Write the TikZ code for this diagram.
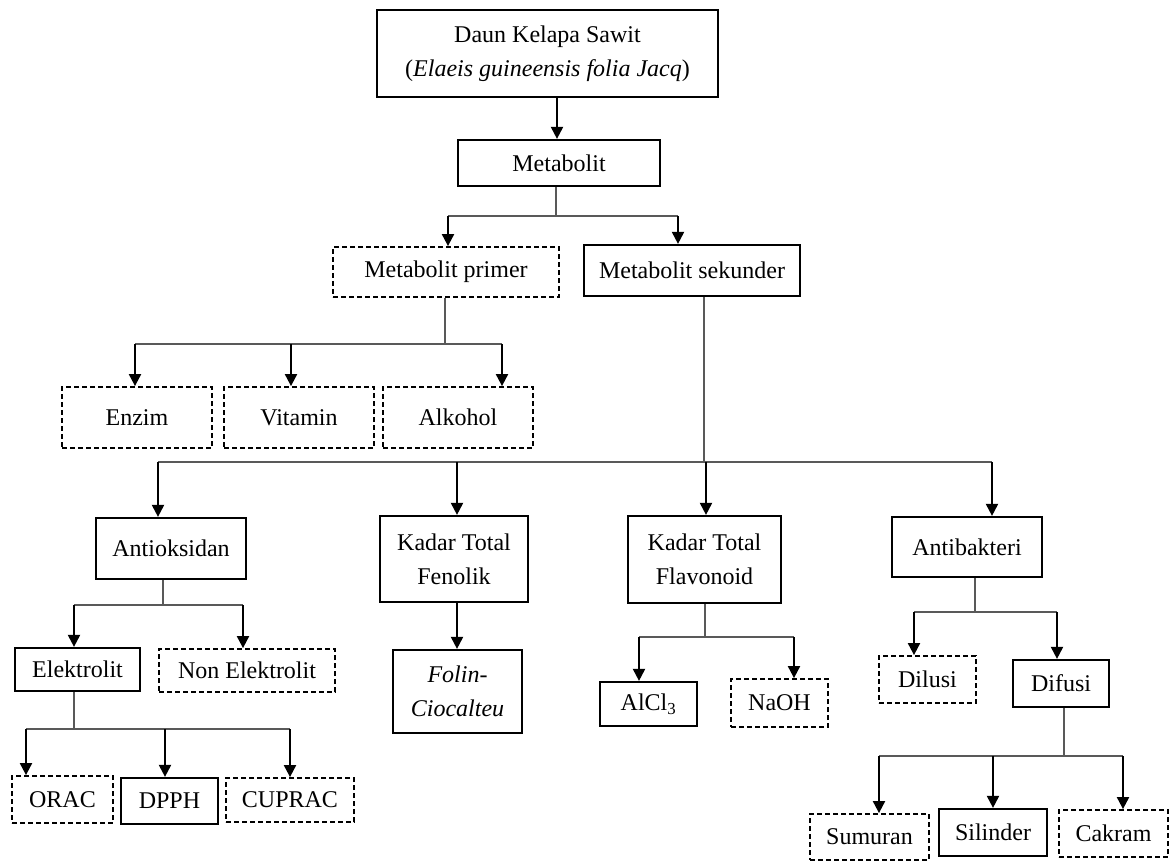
\documentclass[tikz,border=0pt]{standalone}
\usepackage{fontspec}
\setmainfont{Liberation Serif}
\usetikzlibrary{arrows.meta}
\begin{document}
\begin{tikzpicture}[x=1pt,y=-1pt,
  every node/.style={font=\fontsize{24}{34}\selectfont, align=center, inner sep=0pt},
  sbox/.style={draw, line width=2.2pt},
  dbox/.style={draw, line width=1.8pt, dash pattern=on 5pt off 3pt},
  link/.style={draw=black!65, line width=1.2pt},
  arr/.style={draw, line width=2pt, -{Triangle[width=12pt,length=12pt]}}]
\useasboundingbox (0,0) rectangle (1176,861);
% nodes
\node[sbox, minimum width=341, minimum height=87] (top) at (547.5,53.5) {Daun Kelapa Sawit\\(\textit{Elaeis guineensis folia Jacq})};
\node[sbox, minimum width=202, minimum height=46] (met) at (559,163) {Metabolit};
\node[dbox, minimum width=226, minimum height=50] (prim) at (446,272) {Metabolit primer};
\node[sbox, minimum width=216, minimum height=51] (sek) at (692,270.5) {Metabolit sekunder};
\node[dbox, minimum width=150, minimum height=61] (enzim) at (137,417.5) {Enzim};
\node[dbox, minimum width=150, minimum height=61] (vit) at (299,417.5) {Vitamin};
\node[dbox, minimum width=150, minimum height=61] (alk) at (458,417.5) {Alkohol};
\node[sbox, minimum width=150, minimum height=61] (anti) at (171,548.5) {Antioksidan};
\node[sbox, minimum width=148, minimum height=86] (fen) at (454,559) {Kadar Total\\Fenolik};
\node[sbox, minimum width=153, minimum height=87] (flav) at (704.5,559.5) {Kadar Total\\Flavonoid};
\node[sbox, minimum width=150, minimum height=60] (bakt) at (967,547) {Antibakteri};
\node[sbox, minimum width=125, minimum height=43] (elek) at (77.5,669.5) {Elektrolit};
\node[dbox, minimum width=176, minimum height=43] (nonel) at (247,670.5) {Non Elektrolit};
\node[sbox, minimum width=129, minimum height=83] (folin) at (457.5,691.5) {\textit{Folin-}\\\textit{Ciocalteu}};
\node[sbox, minimum width=97, minimum height=44] (alcl) at (648.5,704) {AlCl\textsubscript{3}};
\node[dbox, minimum width=97, minimum height=48] (naoh) at (779.5,703) {NaOH};
\node[dbox, minimum width=97, minimum height=47] (dilusi) at (927.5,679.5) {Dilusi};
\node[sbox, minimum width=96, minimum height=47] (difusi) at (1061,683.5) {Difusi};
\node[dbox, minimum width=101, minimum height=47] (orac) at (62.5,799.5) {ORAC};
\node[sbox, minimum width=97, minimum height=46] (dpph) at (169.5,801) {DPPH};
\node[dbox, minimum width=128, minimum height=44] (cuprac) at (290,800) {CUPRAC};
\node[dbox, minimum width=119, minimum height=46] (sumuran) at (869.5,837) {Sumuran};
\node[sbox, minimum width=108, minimum height=47] (silinder) at (993,832.5) {Silinder};
\node[dbox, minimum width=109, minimum height=47] (cakram) at (1113.5,833.5) {Cakram};
% junction coordinates
\coordinate (j1) at (556,216); \coordinate (j1a) at (448,216); \coordinate (j1b) at (678,216);
\coordinate (j2) at (445,344); \coordinate (j2a) at (135,344); \coordinate (j2b) at (291,344); \coordinate (j2c) at (502,344);
\coordinate (j3) at (704,462); \coordinate (j3a) at (158,462); \coordinate (j3b) at (457,462); \coordinate (j3c) at (706,462); \coordinate (j3d) at (992,462);
\coordinate (j4) at (163,605); \coordinate (j4a) at (74,605); \coordinate (j4b) at (243,605);
\coordinate (j5) at (74,729); \coordinate (j5a) at (26,729); \coordinate (j5b) at (165,729); \coordinate (j5c) at (290,729);
\coordinate (j6) at (705,637); \coordinate (j6a) at (639,637); \coordinate (j6b) at (794,637);
\coordinate (j7) at (975,612); \coordinate (j7a) at (914,612); \coordinate (j7b) at (1057,612);
\coordinate (j8) at (1064,756); \coordinate (j8a) at (879,756); \coordinate (j8b) at (993,756); \coordinate (j8c) at (1123,756);
\coordinate (j0) at (557,0);
% connectors
\draw[arr] (top.south -| j0) -- (met.north -| j0);
\draw[link] (met.south -| j1) -- (j1);
\draw[link] (j1a) -- (j1b);
\draw[arr] (j1a) -- (j1a |- prim.north);
\draw[arr] (j1b) -- (j1b |- sek.north);
\draw[link] (prim.south -| j2) -- (j2);
\draw[link] (j2a) -- (j2c);
\draw[arr] (j2a) -- (j2a |- enzim.north);
\draw[arr] (j2b) -- (j2b |- vit.north);
\draw[arr] (j2c) -- (j2c |- alk.north);
\draw[link] (sek.south -| j3) -- (j3);
\draw[link] (j3a) -- (j3d);
\draw[arr] (j3a) -- (j3a |- anti.north);
\draw[arr] (j3b) -- (j3b |- fen.north);
\draw[arr] (j3c) -- (j3c |- flav.north);
\draw[arr] (j3d) -- (j3d |- bakt.north);
\draw[link] (anti.south -| j4) -- (j4);
\draw[link] (j4a) -- (j4b);
\draw[arr] (j4a) -- (j4a |- elek.north);
\draw[arr] (j4b) -- (j4b |- nonel.north);
\draw[link] (elek.south -| j5) -- (j5);
\draw[link] (j5a) -- (j5c);
\draw[arr] (j5a) -- (j5a |- orac.north);
\draw[arr] (j5b) -- (j5b |- dpph.north);
\draw[arr] (j5c) -- (j5c |- cuprac.north);
\draw[arr] (fen.south -| j3b) -- (folin.north -| j3b);
\draw[link] (flav.south -| j6) -- (j6);
\draw[link] (j6a) -- (j6b);
\draw[arr] (j6a) -- (j6a |- alcl.north);
\draw[arr] (j6b) -- (j6b |- naoh.north);
\draw[link] (bakt.south -| j7) -- (j7);
\draw[link] (j7a) -- (j7b);
\draw[arr] (j7a) -- (j7a |- dilusi.north);
\draw[arr] (j7b) -- (j7b |- difusi.north);
\draw[link] (difusi.south -| j8) -- (j8);
\draw[link] (j8a) -- (j8c);
\draw[arr] (j8a) -- (j8a |- sumuran.north);
\draw[arr] (j8b) -- (j8b |- silinder.north);
\draw[arr] (j8c) -- (j8c |- cakram.north);
\end{tikzpicture}
\end{document}
